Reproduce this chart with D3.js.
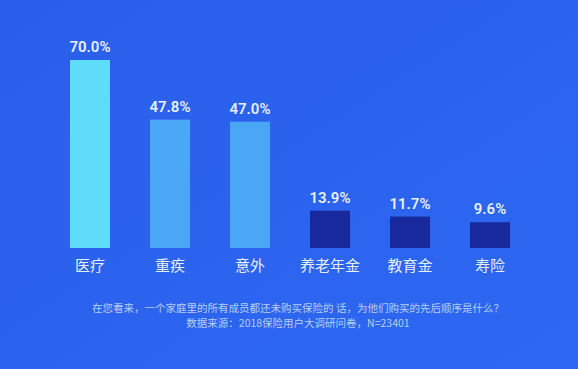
<!DOCTYPE html>
<html>
<head>
<meta charset="utf-8">
<script src="https://cdn.jsdelivr.net/npm/d3@7"></script>
<style>
  html, body { margin: 0; padding: 0; background: #2962ee; }
  svg { display: block; }
</style>
</head>
<body>
<div id="chart"></div>
<script>
// data
var categories = ["医疗", "重疾", "意外", "养老年金", "教育金", "寿险"];
var values = [70.0, 47.8, 47.0, 13.9, 11.7, 9.6];
var barColors = ["#5fdcf9", "#4aa7f6", "#4aa7f6", "#17299c", "#17299c", "#17299c"];
var footnotes = [
  "在您看来，一个家庭里的所有成员都还未购买保险的 话，为他们购买的先后顺序是什么？",
  "数据来源：2018保险用户大调研问卷，N=23401"
];

var svgWidth = 578;
var svgHeight = 369;

var margin = { top: 60, right: 48, bottom: 121, left: 50 };
var width = svgWidth - margin.left - margin.right;
var height = svgHeight - margin.top - margin.bottom;

var svg = d3.select("#chart")
  .append("svg")
  .attr("width", svgWidth)
  .attr("height", svgHeight);

// background gradient
var defs = svg.append("defs");
var grad = defs.append("linearGradient")
  .attr("id", "bg")
  .attr("x1", "0").attr("y1", "0")
  .attr("x2", "1").attr("y2", "1");
grad.append("stop").attr("offset", "0%").attr("stop-color", "#2a5eea");
grad.append("stop").attr("offset", "100%").attr("stop-color", "#2d68f2");

svg.append("rect")
  .attr("width", svgWidth)
  .attr("height", svgHeight)
  .attr("fill", "url(#bg)");

var chartGroup = svg.append("g")
  .attr("transform", `translate(${margin.left}, ${margin.top})`);

var xBandScale = d3.scaleBand()
  .domain(categories)
  .range([0, width])
  .paddingInner(0.5)
  .paddingOuter(0.25);

var yLinearScale = d3.scaleLinear()
  .domain([0, 70])
  .range([height, 0]);

// bars
chartGroup.selectAll("rect.bar")
  .data(values)
  .enter()
  .append("rect")
  .attr("class", "bar")
  .attr("x", (d, i) => xBandScale(categories[i]))
  .attr("y", d => yLinearScale(d))
  .attr("width", xBandScale.bandwidth())
  .attr("height", d => height - yLinearScale(d))
  .attr("fill", (d, i) => barColors[i]);

// value labels
chartGroup.selectAll("text.value")
  .data(values)
  .enter()
  .append("text")
  .attr("class", "value")
  .attr("x", (d, i) => xBandScale(categories[i]) + xBandScale.bandwidth() / 2)
  .attr("y", d => yLinearScale(d) - 8)
  .attr("text-anchor", "middle")
  .attr("fill", "#e6efff")
  .style("font-family", "Roboto, 'Noto Sans', sans-serif")
  .style("font-size", "15px")
  .style("font-weight", "600")
  .text(d => d.toFixed(1) + "%");

// category axis (no line, no ticks)
var bottomAxis = d3.axisBottom(xBandScale).tickSize(0).tickPadding(12);
var xAxis = chartGroup.append("g")
  .attr("transform", `translate(0, ${height})`)
  .call(bottomAxis);
xAxis.select(".domain").remove();
xAxis.selectAll("text")
  .attr("fill", "#e6efff")
  .style("font-family", "'Noto Sans CJK SC', sans-serif")
  .style("font-size", "15px");

// footnotes
svg.selectAll("text.note")
  .data(footnotes)
  .enter()
  .append("text")
  .attr("class", "note")
  .attr("x", 298)
  .attr("y", (d, i) => 312 + i * 15)
  .attr("text-anchor", "middle")
  .attr("fill", "#b8cdf8")
  .style("font-family", "'Noto Sans CJK SC', sans-serif")
  .style("font-size", "10.5px")
  .text(d => d);
</script>
</body>
</html>
